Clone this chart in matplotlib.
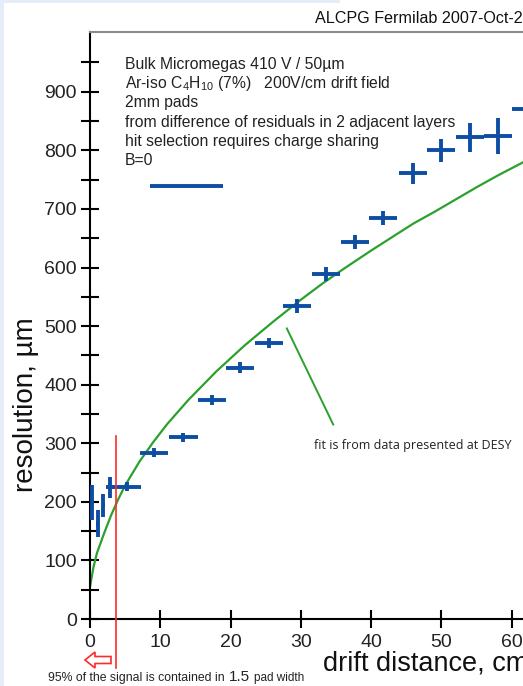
#!/usr/bin/env python3
"""Micromegas resolution vs drift distance."""

import matplotlib

matplotlib.use("Agg")
import matplotlib.pyplot as plt
from matplotlib.patches import Polygon, Rectangle

# measured points (cm, um)
drift = [0.3, 1.1, 1.9, 2.85, 5.2, 9.1, 13.3, 17.3, 21.3, 25.5, 29.5, 33.6,
         37.7, 41.7, 45.9, 49.9, 54.0, 58.0, 62.0]
resol = [199, 163, 194, 225, 226, 284, 310, 374, 429, 471, 534, 589,
         644, 684, 761, 800, 822, 824, 871]
drift_err = [0.2, 0.2, 0.2, 0.6, 2, 2, 2, 2, 2, 2, 2, 2, 2, 2, 2, 2, 2, 2, 2]
resol_err = [30, 23, 20, 18, 8, 8, 8, 9, 9, 8, 12, 12, 12, 12, 18, 20, 24, 31, 35]

# DESY fit curve
fit_x = [0, 0.5, 1, 2, 3, 4, 5, 7, 9, 11, 14, 18, 22, 26, 30, 33, 36, 40, 43,
         46, 49, 52, 55, 58, 62]
fit_y = [55, 89, 113, 146, 177, 204, 228, 268, 302, 333, 374, 423, 467, 507,
         545, 572, 597, 629, 652, 675, 695, 716, 737, 757, 782]

info_lines = [
    "Bulk Micromegas 410 V / 50\u00b5m",
    r"Ar-iso C$\mathregular{_4}$H$\mathregular{_{10}}$ (7%)   200V/cm drift field",
    "2mm pads",
    "from difference of residuals in 2 adjacent layers",
    "hit selection requires charge sharing",
    "B=0",
]

BLUE = "#0d4ea3"
GREEN = "#2ca02c"
RED = "#ff2a2a"
W, H = 523, 686

plt.rcParams["font.family"] = ["Liberation Sans", "DejaVu Sans"]
plt.rcParams["mathtext.fontset"] = "custom"
plt.rcParams["mathtext.rm"] = "Liberation Sans"


def fx(px):
    return px / W


def fy(py):
    return 1 - py / H


fig = plt.figure(figsize=(W / 100, H / 100), dpi=100)
fig.patch.set_facecolor("white")
fig.add_artist(Rectangle((0, 0), fx(4), 1, transform=fig.transFigure,
                         color="#e4edf8", lw=0))
fig.add_artist(Rectangle((0, fy(3)), fx(340), 1 - fy(3), transform=fig.transFigure,
                         color="#e4edf8", lw=0))

ax = fig.add_axes([fx(90), fy(619), 1 - fx(90), fy(32) - fy(619)])
ax.set_xlim(0, 61.6)
ax.set_ylim(0, 1002)

ax.plot(fit_x, fit_y, color=GREEN, lw=1.6, zorder=2)
ax.errorbar(drift, resol, xerr=drift_err, yerr=resol_err, fmt="none",
            ecolor=BLUE, elinewidth=2.8, capsize=0, zorder=3)

# legend-like bar under the text block
ax.plot([8.5, 18.9], [739, 739], color=BLUE, lw=2.8, solid_capstyle="butt")

# pointer from fit note to the curve
ax.plot([28.0, 34.6], [496, 332], color=GREEN, lw=1.4)
ax.text(45.9, 297, "fit is from data presented at DESY", family="Open Sans",
        fontsize=9, color="#222222", ha="center", va="center")

# 1.5 pad width marker
ax.plot([3.7, 3.7], [313, -84], color=RED, lw=1.2, clip_on=False, zorder=4)

for i, line in enumerate(info_lines):
    fig.text(fx(125), fy(69 + 19.2 * i), line, fontsize=11.3, color="#222222")

ax.set_xticks(range(0, 61, 10))
ax.set_yticks(range(0, 901, 100))
ax.set_yticks(range(50, 1000, 100), minor=True)
ax.tick_params(axis="both", direction="inout", length=13, width=1.5,
               labelsize=14, labelcolor="#222222")
ax.tick_params(axis="y", which="minor", direction="inout", length=13, width=1.5)
ax.tick_params(axis="y", pad=3)
ax.tick_params(axis="x", pad=4)
ax.spines["right"].set_visible(False)
ax.spines["top"].set_color("#8a8a8a")
for side in ("left", "bottom", "top"):
    ax.spines[side].set_linewidth(1.5)

fig.text(fx(26), fy(405), "resolution, \u00b5m", rotation=90, fontsize=20,
         ha="center", va="center", color="#111111")
fig.text(fx(323), fy(670), "drift distance, cm", fontsize=19.5,
         ha="left", va="baseline", color="#111111")
fig.text(fx(315), fy(23), "ALCPG Fermilab 2007-Oct-22", fontsize=11.6,
         ha="left", va="baseline", color="#111111")

# hollow red arrow pointing left
arrow_px = [(85, 660), (95, 652), (95, 656.5), (111, 656.5), (111, 663.5),
            (95, 663.5), (95, 668)]
fig.add_artist(Polygon([(fx(x), fy(y)) for x, y in arrow_px], closed=True,
                       transform=fig.transFigure, facecolor="white",
                       edgecolor=RED, lw=1.2))

fig.text(fx(48), fy(681), "95% of the signal is contained in", fontsize=8.8,
         ha="left", va="baseline", color="#222222")
fig.text(fx(229), fy(681), "1.5", fontsize=11, ha="left", va="baseline",
         color="#222222")
fig.text(fx(254), fy(681), "pad width", fontsize=8.5, ha="left", va="baseline",
         color="#222222")

fig.savefig("out.png", dpi=100)
